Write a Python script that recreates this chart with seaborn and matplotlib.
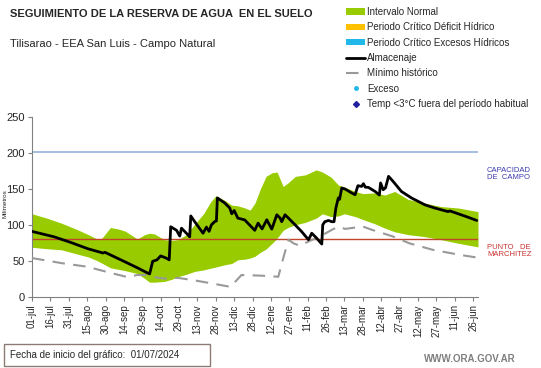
import matplotlib
matplotlib.use("Agg")
import matplotlib.pyplot as plt
import seaborn as sns
from matplotlib.patches import Patch, Rectangle
from matplotlib.lines import Line2D

# days since 01/07/2024
band_days = [0, 12, 24, 37, 46, 53, 57, 64, 70, 76, 86, 92, 96, 100, 108, 114, 119, 126, 133, 140,
             146, 150, 157, 163, 168, 174, 178, 182, 186, 191, 196, 200, 205, 209, 215, 223, 232, 237,
             244, 250, 255, 264, 270, 280, 288, 296, 307, 320, 334, 348, 364]
band_up = [116, 110, 103, 94, 87, 81, 82, 97, 95, 92, 81, 87, 89, 88, 80, 79, 80, 87, 102, 116,
           133, 141, 135, 128, 127, 124, 121, 131, 149, 168, 173, 174, 154, 159, 168, 170, 177, 174,
           167, 156, 153, 147, 144, 145, 142, 147, 136, 131, 126, 124, 119]
band_lo = [69.5, 67.5, 66, 60, 56, 51, 47.5, 41, 39, 37, 33, 26, 21, 21, 22, 25, 28.5, 32, 36, 38,
           40.5, 42, 45, 47, 52, 53, 54.5, 57, 62, 67, 75, 82, 93, 97, 100.7, 104, 110, 116,
           112, 113, 116, 112, 108, 102, 96, 91, 87, 84.4, 80, 75, 70]

alm_days = [0, 18, 32, 45.5, 58, 59.5, 62, 75, 86, 94, 96, 98.5, 102, 105, 109.5, 112, 113.2, 118,
            120.6, 122, 126, 128.7, 129.6, 132.8, 139.6, 142.4, 144.5, 146.4, 149, 150.5, 151.3,
            157.3, 161.4, 163, 165, 168, 173.6, 181.8, 184.5, 187.8, 191.6, 195.7, 199.8, 202.5,
            203.8, 206.5, 209.3, 214.7, 220, 225.6, 227, 228.3, 232.4, 236.5, 237.3, 239, 242,
            244.7, 246.5, 248, 250, 251, 252.8, 255.5, 261, 263.7, 266, 269, 270.5, 272, 274.6,
            280, 283.5, 284.5, 286.6, 288.5, 291, 294.7, 301.5, 309.7, 320.6, 328.7, 339.6, 341,
            347.8, 354.6, 363]
alm_vals = [91.5, 84, 76, 67.5, 61.5, 62.5, 60.5, 50, 41, 34, 32.5, 50, 52, 57.5, 54.5, 52, 98, 93,
            85, 96, 89, 84, 113, 105, 89, 97.5, 91.5, 100.5, 105, 106, 138,
            131, 124, 116, 120.5, 110, 107.5, 93, 103, 95, 107.7, 94.7, 114.6, 110,
            105, 114.6, 110, 100.7, 91.4, 80, 84.4, 89, 82, 74, 100.7, 105, 106.7,
            105, 105, 124, 138, 136, 151.8, 150.4, 144.8, 142.5, 155, 154, 157.8, 153, 152.6,
            147, 142, 158.8, 149.4, 152, 168, 161, 147, 138, 128.5, 124, 119, 120,
            116, 112, 106.7]

min_days = [0, 24, 45, 64, 78, 86, 92, 100, 108, 119, 131, 146, 162, 171, 188, 201, 205, 209.3,
            213.4, 218.8, 225.6, 235, 244.7, 250, 255.5, 270, 277, 294.7, 308, 327, 349, 364]
min_vals = [54.5, 47.5, 42.5, 34, 28, 31, 31, 28, 26, 27, 24, 19.5, 14.5, 31, 30, 28.5, 54, 80,
            75, 71.5, 77.5, 84.5, 93.7, 98.3, 95, 98.3, 94, 84.4, 75, 66, 59, 55]

capacidad_campo = 202
punto_marchitez = 81

tick_labels = ["01-jul", "16-jul", "31-jul", "15-ago", "30-ago", "14-sep", "29-sep", "14-oct",
               "29-oct", "13-nov", "28-nov", "13-dic", "28-dic", "12-ene", "27-ene", "11-feb",
               "26-feb", "13-mar", "28-mar", "12-abr", "27-abr", "12-may", "27-may", "11-jun", "26-jun"]

sns.set_style("white")
plt.rcParams["font.family"] = ["Liberation Sans", "DejaVu Sans"]

W, H = 541, 368
fig = plt.figure(figsize=(W / 100, H / 100), dpi=100)
ax = fig.add_axes([32 / W, 1 - 297.3 / H, 446 / W, 180 / H])

GREEN = "#99CC00"
ax.fill_between(band_days, band_lo, band_up, color=GREEN, lw=0, zorder=1)
ax.axhline(capacidad_campo, color="#8EA9DB", lw=1.1, zorder=2)
ax.axhline(punto_marchitez, color="#C0452A", lw=1.0, zorder=2)
sns.lineplot(x=min_days, y=min_vals, ax=ax, color="#999999", lw=1.5, ls=(0, (6, 4)),
             sort=False, estimator=None, zorder=3)
sns.lineplot(x=alm_days, y=alm_vals, ax=ax, color="black", lw=2, sort=False, estimator=None, zorder=4)

ax.set_xlim(0, 364)
ax.set_ylim(0, 250)
ax.set_xticks(range(0, 361, 15))
ax.set_xticklabels(tick_labels, rotation=90, fontsize=7)
ax.set_yticks([0, 50, 100, 150, 200, 250])
ax.tick_params(axis="y", labelsize=8, length=3, color="#808080", pad=2)
ax.tick_params(axis="x", length=3, color="#808080", pad=2)
ax.tick_params(bottom=True, left=True)
for s in ["top", "right"]:
    ax.spines[s].set_visible(False)
for s in ["left", "bottom"]:
    ax.spines[s].set_color("#808080")
ax.set_xlabel("")
ax.set_ylabel("")

fig.text(5 / W, 1 - 204 / H, "Milímetros", rotation=90, fontsize=4.5, va="center", ha="center")

fig.text(10 / W, 1 - 14 / H, "SEGUIMIENTO DE LA RESERVA DE AGUA  EN EL SUELO",
         fontsize=8, fontweight="bold", va="center")
fig.text(10 / W, 1 - 44 / H, "Tilisarao - EEA San Luis - Campo Natural", fontsize=8, va="center")

fig.text(487 / W, 1 - 174 / H, "CAPACIDAD\nDE  CAMPO", fontsize=5.5, color="#3B3BB0",
         va="center", linespacing=1.1)
fig.text(487 / W, 1 - 251 / H, "PUNTO   DE\nMARCHITEZ", fontsize=5.5, color="#C83232",
         va="center", linespacing=1.1)

handles = [
    Patch(facecolor=GREEN, edgecolor="none"),
    Patch(facecolor="#FFC000", edgecolor="none"),
    Patch(facecolor="#1FB8E8", edgecolor="none"),
    Line2D([], [], color="black", lw=2),
    Line2D([], [], color="#999999", lw=1.5, ls=(0, (6, 4))),
    Line2D([], [], color="#1FB8E8", marker="o", ms=2.5, ls="none"),
    Line2D([], [], color="#1F1F9F", marker="D", ms=3, ls="none"),
]
labels = ["Intervalo Normal", "Periodo Crítico Déficit Hídrico", "Periodo Crítico Excesos Hídricos",
          "Almacenaje", "Mínimo histórico", "Exceso", "Temp <3°C fuera del período habitual"]
fig.legend(handles, labels, loc="upper left", bbox_to_anchor=(346 / W, 1 - 7 / H),
           frameon=False, fontsize=7, handlelength=2.0, handleheight=0.6, handletextpad=0.2,
           labelspacing=0.55, borderpad=0, borderaxespad=0)

fig.add_artist(Rectangle((4 / W, 1 - 366 / H), 206 / W, 22 / H, transform=fig.transFigure,
                         facecolor="white", edgecolor="#8C7B75", lw=1))
fig.text(10 / W, 1 - 355 / H, "Fecha de inicio del gráfico:  01/07/2024", fontsize=7, va="center")
fig.text(424 / W, 1 - 359 / H, "WWW.ORA.GOV.AR", fontsize=7, color="#7F7F7F",
         fontweight="bold", va="center")

fig.savefig("out.png", dpi=100)
